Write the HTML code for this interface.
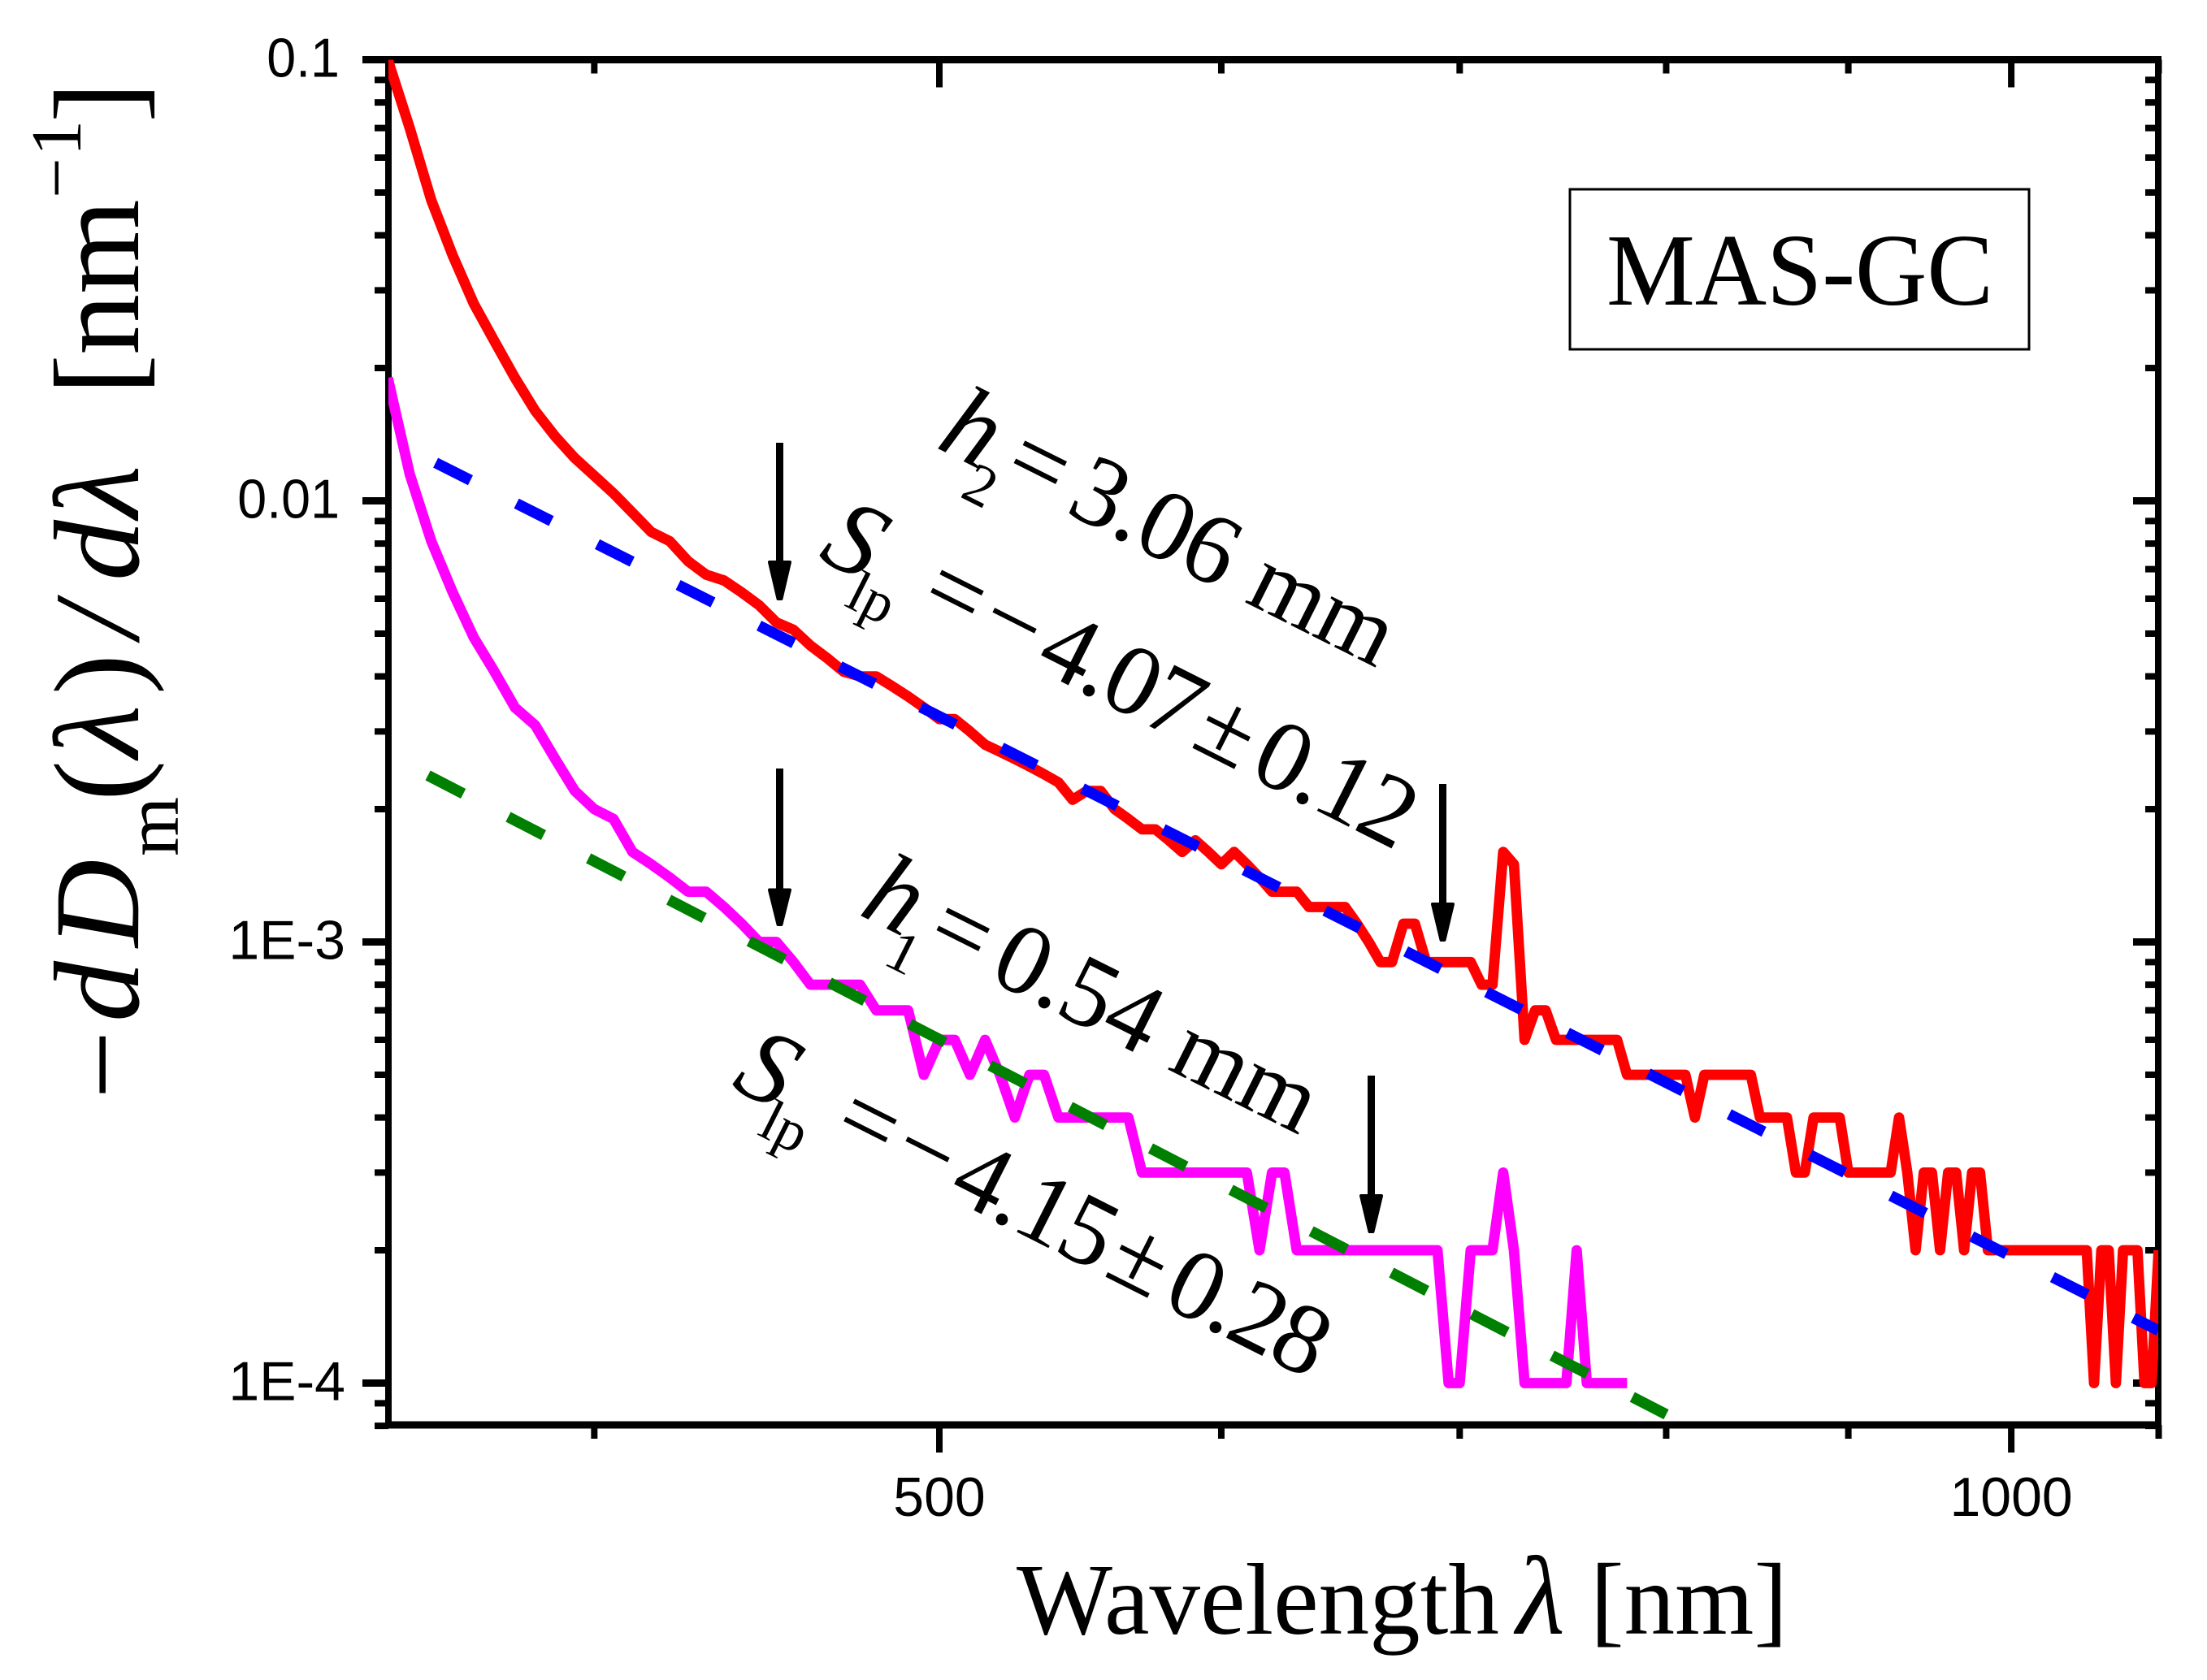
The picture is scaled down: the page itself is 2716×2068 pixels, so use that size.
<!DOCTYPE html>
<html lang="en">
<head>
<meta charset="utf-8">
<title>MAS-GC wavelength derivative chart</title>
<style>
html,body{margin:0;padding:0;background:#fff;}
svg{display:block;}
.serif{font-family:"Liberation Serif",serif;fill:#000;}
.sans{font-family:"Liberation Sans",sans-serif;fill:#000;font-size:68px;}
.it{font-style:italic;}
</style>
</head>
<body>
<svg id="chart" xmlns="http://www.w3.org/2000/svg" width="2716" height="2068" viewBox="0 0 2716 2068">
  <rect width="2716" height="2068" fill="#fff"/>
  <defs><clipPath id="plot-clip"><rect x="478" y="73.5" width="2178" height="1681"/></clipPath></defs>
  <g id="axes"></g>
  <g id="marks" clip-path="url(#plot-clip)"></g>
  <g id="tick-labels"></g>

  <g class="serif" transform="translate(170,1353) rotate(-90)" font-size="150">
    <text><tspan x="0" y="6">−</tspan><tspan x="95" y="0" class="it">d</tspan><tspan x="187" class="it">D</tspan><tspan x="299" y="49" font-size="94">m</tspan><tspan x="367" y="0">(</tspan><tspan x="420" class="it">λ</tspan><tspan x="498">)</tspan><tspan x="568" class="it">/</tspan><tspan x="638" class="it">d</tspan><tspan x="715" class="it">λ</tspan><tspan x="867">[</tspan><tspan x="916">nm</tspan><tspan x="1109" y="-71" font-size="88">−</tspan><tspan x="1161" y="-71" font-size="88">1</tspan><tspan x="1202" y="0">]</tspan></text>
  </g>

  <text class="serif" y="2011" font-size="125"><tspan x="1251">Wavelength</tspan><tspan x="1866" class="it" font-size="138">λ</tspan><tspan x="1957">[nm]</tspan></text>

  <rect x="1932" y="233" width="565" height="197" fill="#fff" stroke="#000" stroke-width="3"/>
  <text class="serif" x="1977" y="375" font-size="126" textLength="476" lengthAdjust="spacingAndGlyphs">MAS-GC</text>

  <g class="serif" font-size="124" transform="translate(1150,550) rotate(26.6)">
    <text><tspan x="0" class="it" font-size="130">h</tspan><tspan x="54" y="41" font-size="72">2</tspan><tspan x="90" y="0">=</tspan><tspan x="178" letter-spacing="-1">3.06</tspan><tspan x="425" font-size="118">mm</tspan></text>
  </g>
  <g class="serif" font-size="124" transform="translate(1005,687) rotate(26.8)">
    <text><tspan x="0" class="it" font-size="130">S</tspan><tspan x="55" y="37" font-size="72">lp</tspan><tspan x="138" y="0">=</tspan><tspan x="217">−</tspan><tspan x="298" letter-spacing="-3">4.07</tspan><tspan x="513">±</tspan><tspan x="593" letter-spacing="-3.5">0.12</tspan></text>
  </g>
  <g class="serif" font-size="124" transform="translate(1055,1125) rotate(26.6)">
    <text><tspan x="0" class="it" font-size="130">h</tspan><tspan x="54" y="41" font-size="72">1</tspan><tspan x="90" y="0">=</tspan><tspan x="178" letter-spacing="-1">0.54</tspan><tspan x="425" font-size="118">mm</tspan></text>
  </g>
  <g class="serif" font-size="124" transform="translate(898,1338) rotate(26.8)">
    <text><tspan x="0" class="it" font-size="130">S</tspan><tspan x="55" y="37" font-size="72">lp</tspan><tspan x="138" y="0">=</tspan><tspan x="217">−</tspan><tspan x="298" letter-spacing="-3">4.15</tspan><tspan x="513">±</tspan><tspan x="593" letter-spacing="-3.5">0.28</tspan></text>
  </g>

  <g>
    <line x1="959.5" y1="545" x2="959.5" y2="695" stroke="#000" stroke-width="9"/>
    <polygon points="947,692 972,692 961.5,737 957.5,737" fill="#000" stroke="#000" stroke-width="4" stroke-linejoin="round"/>
  </g>
  <g>
    <line x1="959.5" y1="946" x2="959.5" y2="1098" stroke="#000" stroke-width="9"/>
    <polygon points="947,1095.5 972,1095.5 961.5,1138 957.5,1138" fill="#000" stroke="#000" stroke-width="4" stroke-linejoin="round"/>
  </g>
  <g>
    <line x1="1775.5" y1="965" x2="1775.5" y2="1116" stroke="#000" stroke-width="9"/>
    <polygon points="1763,1113 1788,1113 1777.5,1157 1773.5,1157" fill="#000" stroke="#000" stroke-width="4" stroke-linejoin="round"/>
  </g>
  <g>
    <line x1="1687.5" y1="1324" x2="1687.5" y2="1475" stroke="#000" stroke-width="9"/>
    <polygon points="1675,1472 1700,1472 1689.5,1516 1685.5,1516" fill="#000" stroke="#000" stroke-width="4" stroke-linejoin="round"/>
  </g>
</svg>

<script>
const wavelengths = [350,355,360,365,370,375,380,385,390,395,400,405,410,415,420,425,430,435,440,445,450,455,460,465,470,475,480,485,490,495,500,505,510,515,520,525,530,535,540,545,550,555,560,565,570,575,580,585,590,595,600,605,610,615,620,625,630,635,640,645,650,655,660,665,670,675,680,685,690,695,700,705,710,715,720,725,730,735,740,745,750,755,760,765,770,775,780,785,790,795,800,805,810,815,820,825,830,835,840,845,850,855,860,865,870,875,880,885,890,895,900,905,910,915,920,925,930,935,940,945,950,955,960,965,970,975,980,985,990,995,1000,1005,1010,1015,1020,1025,1030,1035,1040,1045,1050,1055,1060,1065,1070,1075,1080,1085,1090,1095,1100];
const h2Values = [0.1,0.07,0.048,0.036,0.028,0.023,0.019,0.016,0.014,0.0125,0.0114,0.0104,0.0094,0.0085,0.0081,0.0073,0.0068,0.0066,0.0062,0.0058,0.0053,0.0051,0.0047,0.0044,0.0041,0.004,0.004,0.0038,0.0036,0.0034,0.0032,0.0032,0.003,0.0028,0.0027,0.0026,0.0025,0.0024,0.0023,0.0021,0.0022,0.0022,0.002,0.0019,0.0018,0.0018,0.0017,0.0016,0.0017,0.0016,0.0015,0.0016,0.0015,0.0014,0.0013,0.0013,0.0013,0.0012,0.0012,0.0012,0.0012,0.0011,0.001,0.0009,0.0009,0.0011,0.0011,0.0009,0.0009,0.0009,0.0009,0.0009,0.0008,0.0008,0.0016,0.0015,0.0006,0.0007,0.0007,0.0006,0.0006,0.0006,0.0006,0.0006,0.0006,0.0006,0.0005,0.0005,0.0005,0.0005,0.0005,0.0005,0.0005,0.0004,0.0005,0.0005,0.0005,0.0005,0.0005,0.0005,0.0004,0.0004,0.0004,0.0004,0.0003,0.0003,0.0004,0.0004,0.0004,0.0004,0.0003,0.0003,0.0003,0.0003,0.0003,0.0003,0.0004,0.0003,0.0002,0.0003,0.0003,0.0002,0.0003,0.0003,0.0002,0.0003,0.0003,0.0002,0.0002,0.0002,0.0002,0.0002,0.0002,0.0002,0.0002,0.0002,0.0002,0.0002,0.0002,0.0002,0.0002,0.0001,0.0002,0.0002,0.0001,0.0002,0.0002,0.0002,0.0001,0.0001,0.0002];
const h1Values = [0.019,0.0115,0.0081,0.0062,0.0049,0.0041,0.0034,0.0031,0.0026,0.0022,0.002,0.0019,0.0016,0.0015,0.0014,0.0013,0.0013,0.0012,0.0011,0.001,0.001,0.0009,0.0008,0.0008,0.0008,0.0008,0.0007,0.0007,0.0007,0.0005,0.0006,0.0006,0.0005,0.0006,0.0005,0.0004,0.0005,0.0005,0.0004,0.0004,0.0004,0.0004,0.0004,0.0004,0.0003,0.0003,0.0003,0.0003,0.0003,0.0003,0.0003,0.0003,0.0003,0.0002,0.0003,0.0003,0.0002,0.0002,0.0002,0.0002,0.0002,0.0002,0.0002,0.0002,0.0002,0.0002,0.0002,0.0002,0.0002,0.0001,0.0001,0.0002,0.0002,0.0002,0.0003,0.0002,0.0001,0.0001,0.0001,0.0001,0.0001,0.0002,0.0001,0.0001,0.0001,0.0001,0.0001];
const fitUpperX = [361,1100];
const fitUpperY = [0.0122,0.0001315];
const fitLowerX = [359.2,800];
const fitLowerY = [0.002385,0.0000849];
const xMajorTicks = [500,1000];
const xMinorTicks = [400,600,700,800,900,1100];
const xTickLabels = ['500','1000'];
const yMajorTicks = [0.1,0.01,0.001,0.0001];
const yMinorTicks = [0.09,0.08,0.07,0.06,0.05,0.04,0.03,0.02,0.009,0.008,0.007,0.006,0.005,0.004,0.003,0.002,0.0009,0.0008,0.0007,0.0006,0.0005,0.0004,0.0003,0.0002,0.00009,0.00008];
const yTickLabels = ['0.1','0.01','1E-3','1E-4'];

const NS = 'http://www.w3.org/2000/svg';
const xScale = function (w) { return 1156 + 4382 * Math.log10(w / 500); };
const yScale = function (v) { return 73.5 + 543 * Math.log10(0.1 / v); };
const LEFT = 478, RIGHT = 2656, TOP = 73.5, BOTTOM = 1754;
const axes = document.getElementById('axes');
const marks = document.getElementById('marks');
const labels = document.getElementById('tick-labels');

function axisLine(x1, y1, x2, y2, w) {
  const l = document.createElementNS(NS, 'line');
  l.setAttribute('x1', x1);
  l.setAttribute('y1', y1);
  l.setAttribute('x2', x2);
  l.setAttribute('y2', y2);
  l.setAttribute('stroke', '#000');
  l.setAttribute('stroke-width', w);
  axes.appendChild(l);
  return l;
}

let el;
el = axisLine(LEFT, TOP - 4.5, LEFT, BOTTOM + 4.5, 8);


el = axisLine(RIGHT, TOP - 4.5, RIGHT, BOTTOM + 4.5, 8);


el = axisLine(LEFT - 4, TOP, RIGHT + 4, TOP, 9);


el = axisLine(LEFT - 4, BOTTOM, RIGHT + 4, BOTTOM, 9);



xMajorTicks.forEach(function (t) {
  const x = xScale(t);
  el = axisLine(x, BOTTOM, x, BOTTOM + 34, 8);
  
  
  el = axisLine(x, TOP, x, TOP + 34, 8);
  
  
});
xMinorTicks.forEach(function (t) {
  const x = xScale(t);
  el = axisLine(x, BOTTOM, x, BOTTOM + 17, 8);
  
  
  el = axisLine(x, TOP, x, TOP + 17, 8);
  
  
});
yMajorTicks.forEach(function (t) {
  const y = yScale(t);
  el = axisLine(LEFT - 32, y, LEFT, y, 9);
  
  
  el = axisLine(RIGHT - 31, y, RIGHT, y, 9);
  
  
});
yMinorTicks.forEach(function (t) {
  const y = yScale(t);
  el = axisLine(LEFT - 17, y, LEFT, y, 8);
  
  
  el = axisLine(RIGHT - 16, y, RIGHT, y, 8);
  
  
});

xMajorTicks.forEach(function (t, i) {
  const txt = document.createElementNS(NS, 'text');
  txt.setAttribute('class', 'sans');
  txt.setAttribute('x', xScale(t));
  txt.setAttribute('y', 1866);
  txt.setAttribute('text-anchor', 'middle');
  txt.textContent = xTickLabels[i];
  
  
  labels.appendChild(txt);
});
yMajorTicks.forEach(function (t, i) {
  const txt = document.createElementNS(NS, 'text');
  const isExp = yTickLabels[i].indexOf('E') > 0;
  txt.setAttribute('class', 'sans');
  txt.setAttribute('x', isExp ? 425 : 418);
  txt.setAttribute('y', yScale(t) + 21);
  txt.setAttribute('text-anchor', 'end');
  txt.textContent = yTickLabels[i];
  
  
  labels.appendChild(txt);
  if (!isExp) {
    txt.setAttribute('textLength', (txt.getComputedTextLength() * 0.95).toFixed(1));
    txt.setAttribute('lengthAdjust', 'spacingAndGlyphs');
  }
});

function seriesPoints(xs, ys) {
  return ys.map(function (v, i) {
    return xScale(xs[i]).toFixed(1) + ',' + yScale(v).toFixed(1);
  }).join(' ');
}
function drawCurve(xs, ys, color) {
  const p = document.createElementNS(NS, 'polyline');
  p.setAttribute('points', seriesPoints(xs, ys));
  p.setAttribute('fill', 'none');
  p.setAttribute('stroke', color);
  p.setAttribute('stroke-width', 12.8);
  p.setAttribute('stroke-linejoin', 'round');
  marks.appendChild(p);
  return p;
}
function drawFit(xs, ys, color, dash) {
  const p = document.createElementNS(NS, 'polyline');
  p.setAttribute('points', seriesPoints(xs, ys));
  p.setAttribute('fill', 'none');
  p.setAttribute('stroke', color);
  p.setAttribute('stroke-width', 13.5);
  p.setAttribute('stroke-dasharray', dash);
  marks.appendChild(p);
  return p;
}

el = drawCurve(wavelengths, h2Values, '#ff0000');


el = drawCurve(wavelengths, h1Values, '#ff00ff');


el = drawFit(fitUpperX, fitUpperY, '#0000ff', '48 63.4');


el = drawFit(fitLowerX, fitLowerY, '#008000', '49 62.2');


</script>
</body>
</html>
